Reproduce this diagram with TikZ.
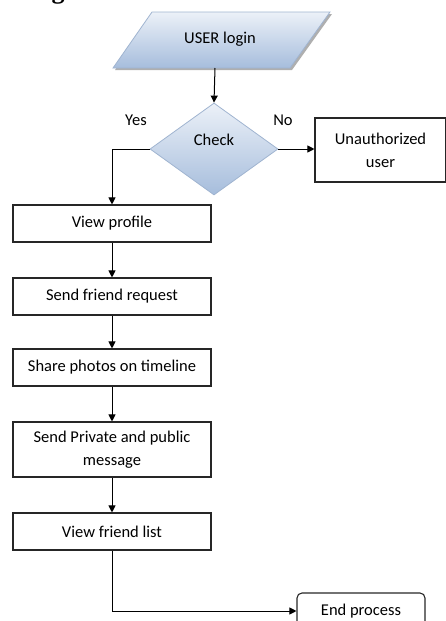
\documentclass[tikz,border=0pt]{standalone}
\usepackage{fontspec}
\setmainfont{Carlito}
\newfontfamily\headfont{Liberation Serif}
\usetikzlibrary{arrows.meta,shapes.geometric}
\definecolor{shtop}{RGB}{236,241,248}
\definecolor{shbot}{RGB}{166,189,220}
\definecolor{shedge}{RGB}{160,180,208}
\definecolor{shadowc}{RGB}{175,175,175}
\begin{document}
\begin{tikzpicture}[x=1pt,y=-1pt,
  every node/.style={font=\fontsize{16.5}{23}\selectfont, inner sep=0pt},
  box/.style={draw=black!85, line width=1.1pt, minimum width=198pt, minimum height=37pt, align=center},
  conn/.style={line width=1pt, -{Triangle[length=7pt,width=7pt]}},
  decision/.style={diamond, minimum width=128pt, minimum height=92pt, top color=shtop, bottom color=shbot, draw=shedge, line width=0.8pt}]
\useasboundingbox (0,0) rectangle (446,621);
\clip (0,0) rectangle (446,621);
% cut-off heading fragment
\node[anchor=south, font=\headfont\bfseries\fontsize{26}{28}\selectfont] (head) at (58,4.5) {g};
% input parallelogram
\coordinate (p1) at (113,68);
\coordinate (p2) at (290,68);
\coordinate (p3) at (330,12);
\coordinate (p4) at (152,12);
\fill[shadowc] ([shift={(2,2)}]p1) -- ([shift={(2,2)}]p2) -- ([shift={(2,2)}]p3) -- ([shift={(2,2)}]p4) -- cycle;
\shade[top color=shtop, bottom color=shbot, draw=shedge, line width=0.8pt] (p1) -- (p2) -- (p3) -- (p4) -- cycle;
\node (login) at (220,39) {USER login};
\coordinate (loginb) at (215,68);
% decision
\node[decision] (check) at (214,149) {};
\node (checktext) at (214,140) {Check};
\node (yes) at (136,120) {Yes};
\node (no) at (283,120) {No};
\node[box, minimum width=131pt, minimum height=64pt] (unauth) at (380.5,150) {Unauthorized\\user};
% process boxes
\node[box] (view) at (112,223.5) {View profile};
\node[box] (send) at (112,296.5) {Send friend request};
\node[box] (share) at (112,367.5) {Share photos on timeline};
\node[box, minimum height=55pt] (priv) at (112,449.5) {Send Private and public\\message};
\node[box] (list) at (112,531.5) {View friend list};
\node[box, rounded corners=5pt, minimum width=128pt, minimum height=36pt] (end) at (361,611) {End process};
% connectors
\draw[conn] (loginb) -- (check.north);
\draw[conn] (check.east) -- (check.east -| unauth.west);
\draw[conn] (check.west) -| (view.north);
\draw[conn] (view.south) -- (send.north);
\draw[conn] (send.south) -- (share.north);
\draw[conn] (share.south) -- (priv.north);
\draw[conn] (priv.south) -- (list.north);
\draw[conn] (list.south) |- (end.west);
\end{tikzpicture}
\end{document}
